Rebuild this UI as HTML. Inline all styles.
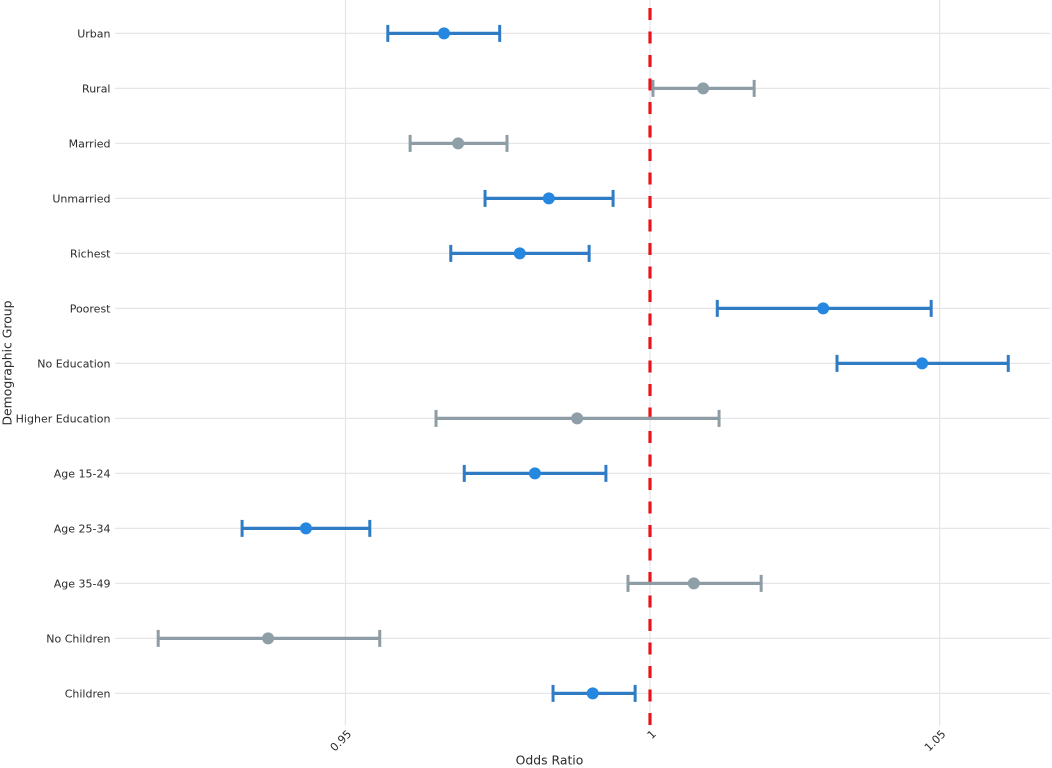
<!DOCTYPE html>
<html>
<head>
<meta charset="utf-8">
<style>
html,body{margin:0;padding:0;background:#fff;width:1052px;height:768px;overflow:hidden}
svg{display:block}
text{font-family:"DejaVu Sans","Liberation Sans",sans-serif;fill:#2b2b2b}
</style>
</head>
<body>
<svg id="chart" xmlns="http://www.w3.org/2000/svg" width="1052" height="768" viewBox="0 0 1052 768"></svg>
<script>
const categories = ["Urban","Rural","Married","Unmarried","Richest","Poorest","No Education","Higher Education","Age 15-24","Age 25-34","Age 35-49","No Children","Children"];
const oddsRatio = [0.9659,1.0090,0.9682,0.9831,0.9783,1.0296,1.0469,0.9878,0.9808,0.9437,1.0074,0.9377,0.9904];
const ciLower = [0.9568,1.0005,0.9604,0.9726,0.9670,1.0114,1.0320,0.9646,0.9692,0.9336,0.9963,0.9205,0.9838];
const ciUpper = [0.9750,1.0177,0.9762,0.9938,0.9898,1.0485,1.0622,1.0117,0.9926,0.9539,1.0189,0.9555,0.9975];
const highlighted = [true,false,false,true,true,true,true,false,true,true,false,false,true];
const xTicks = [0.95,1,1.05];
const xTickLabels = ["0.95","1","1.05"];
const referenceValue = 1;

const NS = "http://www.w3.org/2000/svg";
const svg = document.getElementById("chart");
function xScale(v){ return 650 + 5937 * Math.log(v); }
function yScale(i){ return 33.4 + 55 * i; }
function make(tag, attrs, parent){
  const el = document.createElementNS(NS, tag);
  for (const k in attrs) el.setAttribute(k, attrs[k]);
  (parent || svg).appendChild(el);
  return el;
}

categories.forEach(function(c, i){
  const g = make("line", {x1:115, x2:1050, y1:yScale(i), y2:yScale(i), stroke:"#e6e6e8", "stroke-width":1.2});
  
  
  const t = make("text", {x:110.5, y:yScale(i)+4, "text-anchor":"end", "font-size":"11px"});
  t.textContent = c;
  
  
});

xTicks.forEach(function(v, i){
  const x = xScale(v);
  const g = make("line", {x1:x, x2:x, y1:0, y2:726, stroke:"#e6e6e8", "stroke-width":1.2});
  
  
  const t = make("text", {x:x+1, y:729, "text-anchor":"end", "font-size":"11px", transform:"rotate(-45 "+(x+1)+" 729)", "dominant-baseline":"hanging"});
  t.textContent = xTickLabels[i];
  
  
});

const refLine = make("line", {x1:xScale(referenceValue), x2:xScale(referenceValue), y1:0, y2:726, stroke:"#e8141c", "stroke-width":3.2, "stroke-dasharray":"12 11.5", "stroke-dashoffset":15.5});



categories.forEach(function(c, i){
  const y = yScale(i);
  const lineColor = highlighted[i] ? "#2f7cc4" : "#8d9ca5";
  const dotColor = highlighted[i] ? "#2587e0" : "#8f9fa8";
  const whisker = make("line", {x1:xScale(ciLower[i]), x2:xScale(ciUpper[i]), y1:y, y2:y, stroke:lineColor, "stroke-width":3.2});
  
  
  const capLo = make("line", {x1:xScale(ciLower[i]), x2:xScale(ciLower[i]), y1:y-8.5, y2:y+8.5, stroke:lineColor, "stroke-width":3});
  
  
  const capHi = make("line", {x1:xScale(ciUpper[i]), x2:xScale(ciUpper[i]), y1:y-8.5, y2:y+8.5, stroke:lineColor, "stroke-width":3});
  
  
  const dot = make("circle", {cx:xScale(oddsRatio[i]), cy:y, r:6, fill:dotColor});
  
  
});

const xTitle = make("text", {x:549.5, y:764.5, "text-anchor":"middle", "font-size":"12.4px"});
xTitle.textContent = "Odds Ratio";



const yTitle = make("text", {x:0, y:0, "text-anchor":"middle", "font-size":"12.4px", transform:"translate(11.5 363) rotate(-90)"});
yTitle.textContent = "Demographic Group";


</script>
</body>
</html>
